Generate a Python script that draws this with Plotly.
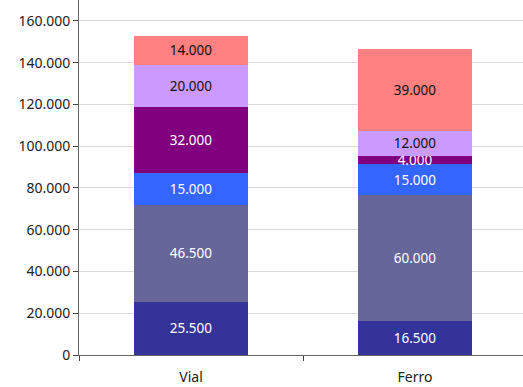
import plotly.graph_objects as go

categories = ["Vial", "Ferro"]
segment_names = ["Segmento 1", "Segmento 2", "Segmento 3", "Segmento 4", "Segmento 5", "Segmento 6"]
segment_values = [
    [25500, 16500],
    [46500, 60000],
    [15000, 15000],
    [32000, 4000],
    [20000, 12000],
    [14000, 39000],
]
segment_colors = ["#333399", "#666699", "#3366FF", "#800080", "#CC99FF", "#FF8080"]
label_colors = ["#FFFFFF", "#FFFFFF", "#FFFFFF", "#FFFFFF", "#111111", "#111111"]
y_ticks = [0, 20000, 40000, 60000, 80000, 100000, 120000, 140000, 160000]
y_tick_labels = ["0", "20.000", "40.000", "60.000", "80.000", "100.000", "120.000", "140.000", "160.000"]


def fmt(v):
    return f"{v:,.0f}".replace(",", ".")


fig = go.Figure()
for name, vals, col, tcol in zip(segment_names, segment_values, segment_colors, label_colors):
    fig.add_trace(go.Bar(
        x=categories, y=vals, name=name,
        marker=dict(color=col, line=dict(width=0)),
        text=[fmt(v) for v in vals],
        textposition="inside",
        insidetextanchor="middle",
        constraintext="none",
        textangle=0,
        textfont=dict(color=tcol, size=13.5, family="Noto Sans"),
        hoverinfo="skip",
    ))

fig.update_layout(
    barmode="stack",
    bargap=0.495,
    width=523, height=387,
    margin=dict(l=79, r=0, t=0, b=32),
    paper_bgcolor="white",
    plot_bgcolor="white",
    showlegend=False,
    font=dict(family="Noto Sans", size=14, color="#222222"),
)
fig.update_xaxes(
    range=[-0.5, 1.482],
    showline=True, linecolor="#666666", linewidth=1,
    ticks="outside", tickson="boundaries", ticklen=5, tickcolor="#444444",
    ticklabelstandoff=9,
    showgrid=False,
    tickfont=dict(size=14, family="Noto Sans", color="#222222"),
)
fig.update_yaxes(
    range=[0, 170000],
    tickvals=y_ticks, ticktext=y_tick_labels,
    showline=True, linecolor="#666666", linewidth=1,
    ticks="outside", ticklen=5, tickcolor="#444444",
    showgrid=True, gridcolor="#D9D9D9", gridwidth=1,
    zeroline=False,
    tickfont=dict(size=14, family="Noto Sans", color="#222222"),
)

fig.write_html("out.html")
